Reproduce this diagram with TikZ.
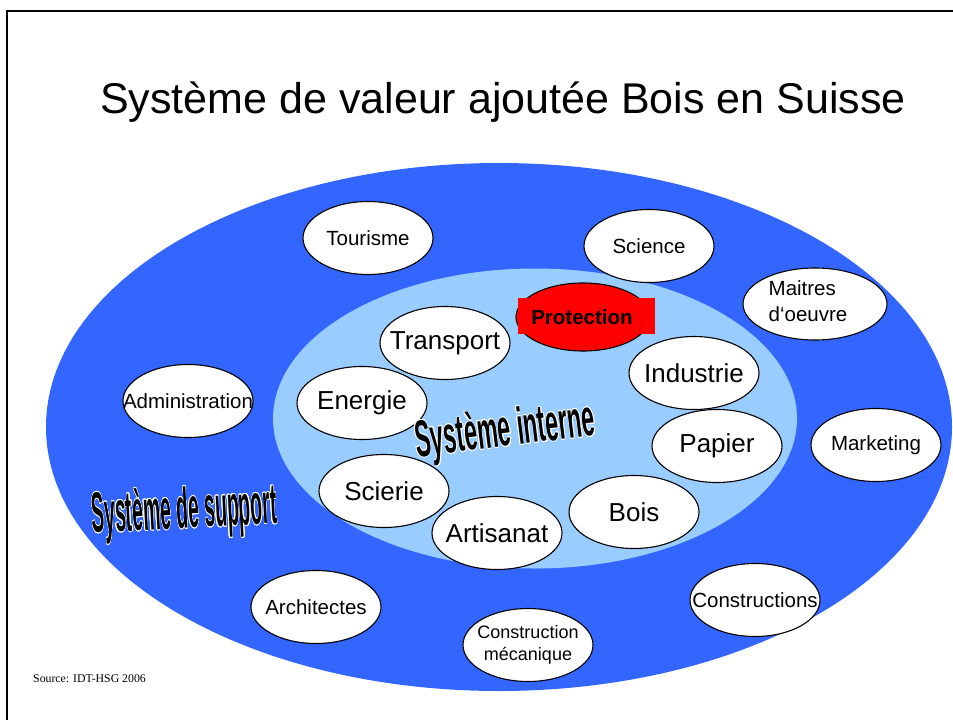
\documentclass[tikz,border=0pt]{standalone}
\usepackage{fontspec}
\setmainfont{Liberation Sans}
\newfontfamily\srcfont{Liberation Serif}
\usepackage[copies]{contour}
\contourlength{1pt}
\usetikzlibrary{shapes.geometric}
\definecolor{outerblue}{HTML}{3366FF}
\definecolor{innerblue}{HTML}{99CCFF}
\begin{document}
\begin{tikzpicture}[x=1pt,y=-1pt,
  bub/.style={ellipse, draw=black, line width=1.1pt, fill=white, inner sep=0pt,
    minimum width=130pt, minimum height=73pt},
  outtxt/.style={font=\fontsize{20.5}{24}\selectfont},
  intxt/.style={font=\fontsize{26}{30}\selectfont},
  wordart/.style={font=\bfseries, anchor=base}
]
\useasboundingbox (0,0) rectangle (953,720);
\fill[white] (0,0) rectangle (953,720);
\draw[line width=2.5pt] (7,725) -- (7,11) -- (960,11);
\node[font=\fontsize{43}{50}\selectfont, anchor=base, inner sep=0pt] (title) at (503,113)
  {Système de valeur ajoutée Bois en Suisse};

% systems
\node[ellipse, fill=outerblue, inner sep=0pt, minimum width=906pt, minimum height=528pt] (support) at (499,427) {};
\node[ellipse, fill=innerblue, inner sep=0pt, minimum width=524pt, minimum height=300pt] (interne) at (535,418.5) {};

% outer bubbles
\node[bub, outtxt] (tour) at (368,238) {\makebox[0pt]{Tourisme}};
\node[bub, outtxt] (sci) at (649,246) {\makebox[0pt]{Science}};
\node[bub, outtxt, minimum width=144pt, minimum height=72pt] (mait) at (815,304)
  {\makebox[0pt]{\kern-14pt\begin{tabular}{@{}l@{}}Maitres\\[2pt]d‘oeuvre\end{tabular}}};
\node[bub, outtxt] (admin) at (188,401) {\makebox[0pt]{Administration}};
\node[bub, outtxt] (mark) at (876,445) {\makebox[0pt]{Marketing}};
\node[bub, outtxt] (arch) at (316,607) {\makebox[0pt]{Architectes}};
\node[bub, outtxt] (cons) at (755,600) {\makebox[0pt]{Constructions}};
\node[bub, font=\fontsize{18}{22}\selectfont] (cmec) at (528,645)
  {\makebox[0pt]{\begin{tabular}{@{}c@{}}Construction\\mécanique\end{tabular}}};

% inner bubbles
\node[bub, fill=red, minimum width=134pt, minimum height=68pt] (prot) at (583,317) {};
\node[fill=red, inner sep=0pt, minimum width=137pt, minimum height=36pt] (protbox) at (586.5,315.5) {};
\node[font=\bfseries\fontsize{20.5}{24}\selectfont, inner sep=0pt] (prot-t) at (582,317) {Protection};
\node[bub, intxt] (trans) at (445,343) {\makebox[0pt]{Transport}};
\node[bub, intxt] (indu) at (694,373) {\makebox[0pt]{Industrie}};
\node[bub, intxt] (ener) at (362,403) {\makebox[0pt]{Energie}};
\node[bub, intxt] (pap) at (717,446) {\makebox[0pt]{Papier}};
\node[bub, intxt] (scie) at (384,491) {\makebox[0pt]{Scierie}};
\node[bub, intxt] (bois) at (634,512) {\makebox[0pt]{Bois}};
\node[bub, intxt] (arti) at (497,533) {\makebox[0pt]{Artisanat}};

% word art labels
\node[wordart, rotate=7, xscale=0.45, font=\bfseries\fontsize{52}{58}\selectfont] (interne-t) at (507,446)
  {\contour{white}{Système interne}};
\node[wordart, rotate=3, xscale=0.34, font=\bfseries\fontsize{57}{63}\selectfont] (support-t) at (185,528)
  {\contour{white}{Système de support}};

\node[font=\srcfont\fontsize{11.8}{14}\selectfont, anchor=base west, inner sep=0pt] (src) at (33,682)
  {Source: IDT-HSG 2006};
\end{tikzpicture}
\end{document}
